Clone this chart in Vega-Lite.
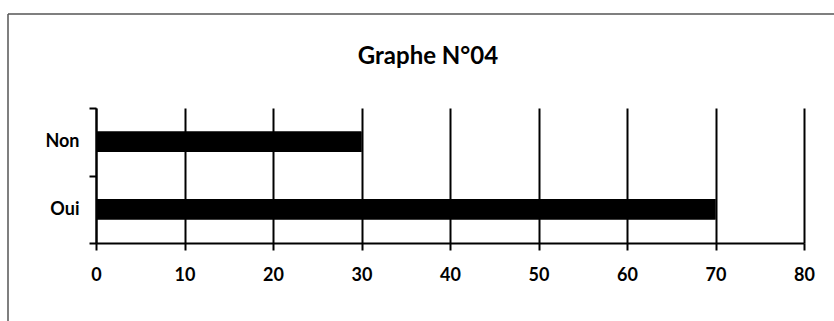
{
  "$schema": "https://vega.github.io/schema/vega-lite/v6.json",
  "width": 826,
  "height": 307,
  "autosize": {"type": "none"},
  "padding": {"left": 8, "top": 14, "right": 0, "bottom": 0},
  "background": "white",
  "title": {
    "text": "Graphe N°04",
    "font": "Lato",
    "fontSize": 24,
    "fontWeight": "bold",
    "color": "#000000",
    "anchor": "middle",
    "offset": 0,
    "dx": 7,
    "dy": 64
  },
  "data": {
    "values": [
      {"reponse": "Non", "valeur": 30},
      {"reponse": "Oui", "valeur": 70}
    ]
  },
  "encoding": {
    "y": {
      "field": "reponse",
      "type": "nominal",
      "sort": ["Non", "Oui"],
      "scale": {"range": [94, 229], "paddingInner": 0, "paddingOuter": 0},
      "axis": {
        "title": null,
        "orient": "left",
        "offset": -88,
        "domainColor": "#000000",
        "domainWidth": 2,
        "tickColor": "#000000",
        "tickWidth": 2,
        "tickSize": 7,
        "tickBand": "extent",
        "grid": false,
        "labelFont": "Lato",
        "labelFontSize": 18,
        "labelFontWeight": "bold",
        "labelColor": "#000000",
        "labelPadding": 10
      }
    }
  },
  "layer": [
    {
      "mark": {"type": "bar", "color": "#000000", "height": {"band": 0.305}},
      "encoding": {
        "x": {
          "field": "valeur",
          "type": "quantitative",
          "scale": {"domain": [0, 80], "range": [88, 796], "nice": false},
          "axis": {
            "title": null,
            "orient": "bottom",
            "offset": -78,
            "values": [0, 10, 20, 30, 40, 50, 60, 70, 80],
            "domainColor": "#000000",
            "domainWidth": 2,
            "tickColor": "#000000",
            "tickWidth": 2,
            "tickSize": 7,
            "grid": false,
            "labelFont": "Lato",
            "labelFontSize": 18,
            "labelFontWeight": "bold",
            "labelColor": "#000000",
            "labelPadding": 16,
            "labelFlush": false
          }
        }
      }
    },
    {
      "mark": {"type": "bar", "color": "#000000", "height": {"band": 0.305}},
      "encoding": {
        "x": {
          "field": "valeur",
          "type": "quantitative",
          "scale": {"domain": [0, 80], "range": [88, 796], "nice": false},
          "axis": {
            "title": null,
            "orient": "top",
            "values": [0, 10, 20, 30, 40, 50, 60, 70, 80],
            "domain": false,
            "ticks": false,
            "labels": false,
            "grid": true,
            "gridColor": "#000000",
            "gridWidth": 2,
            "gridOpacity": 1
          }
        }
      }
    }
  ],
  "resolve": {"axis": {"x": "independent"}},
  "config": {
    "view": {
      "stroke": "#555555",
      "strokeWidth": 1.5,
      "strokeDash": [826, 1133, 307, 0]
    }
  }
}
